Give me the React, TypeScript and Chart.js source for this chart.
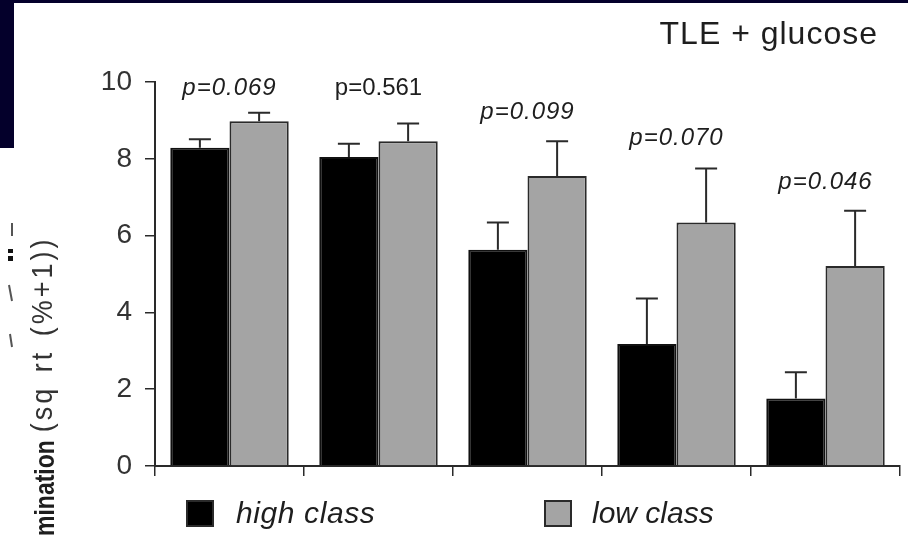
import React, { useEffect, useRef } from "react";
import { Chart, registerables } from "chart.js";

Chart.register(...registerables);

// Germination per class, square-root transformed (sq rt (%+1)), mean + SE
const categories = ["I", "II", "III", "IV", "V"];
const highClass = [8.29, 8.05, 5.63, 3.18, 1.76];
const highClassSE = [0.22, 0.34, 0.71, 1.18, 0.68];
const lowClass = [8.98, 8.46, 7.55, 6.34, 5.21];
const lowClassSE = [0.22, 0.46, 0.91, 1.41, 1.44];
const pValues = ["p=0.069", "p=0.561", "p=0.099", "p=0.070", "p=0.046"];
// value-axis level where each p label sits
const pLabelLevel = [9.84, 9.84, 9.22, 8.54, 7.4];
const yTicks = [0, 2, 4, 6, 8, 10];

const seriesNames = ["high class", "low class"];
const titleText = "TLE + glucose";
const axisLead = "mination";
const axisUnit = "(sq rt (%+1))";

const FONT = '"Liberation Sans", Arial, Helvetica, sans-serif';
const INK = "#2a2a2a";
const TEXT = "#1e1e1e";
const BLACK = "#000000";
const GREY = "#a4a4a4";
const NAVY = "#04002b";

const decor = {
  id: "decor",
  beforeDraw(chart: any) {
    const { ctx, width, height } = chart;
    ctx.save();
    ctx.fillStyle = "#ffffff";
    ctx.fillRect(0, 0, width, height);
    ctx.fillStyle = NAVY;
    ctx.fillRect(0, 0, width, 3);
    ctx.fillRect(0, 0, 14, 148);

    // clipped edge of the neighbouring panel's axis title
    ctx.strokeStyle = "#555555";
    ctx.lineWidth = 2;
    ctx.beginPath();
    ctx.moveTo(12, 223);
    ctx.lineTo(12, 236);
    ctx.moveTo(9, 285);
    ctx.lineTo(12, 301);
    ctx.moveTo(10, 334);
    ctx.lineTo(12, 347);
    ctx.stroke();
    ctx.fillStyle = "#111111";
    ctx.fillRect(8, 249, 5, 4);
    ctx.fillRect(8, 256, 5, 5);
    ctx.restore();
  },
  afterDatasetsDraw(chart: any) {
    const { ctx } = chart;
    const y = chart.scales.y;
    const x = chart.scales.x;
    const errs = [highClassSE, lowClassSE];
    ctx.save();
    ctx.strokeStyle = INK;
    ctx.lineWidth = 2;
    chart.data.datasets.forEach((ds: any, di: number) => {
      const meta = chart.getDatasetMeta(di);
      meta.data.forEach((bar: any, i: number) => {
        const top = y.getPixelForValue(ds.data[i] + errs[di][i]);
        ctx.beginPath();
        ctx.moveTo(bar.x, bar.y);
        ctx.lineTo(bar.x, top);
        ctx.moveTo(bar.x - 11, top);
        ctx.lineTo(bar.x + 11, top);
        ctx.stroke();
      });
    });

    // p values above each pair
    ctx.fillStyle = TEXT;
    ctx.textAlign = "center";
    ctx.textBaseline = "middle";
    pValues.forEach((p, i) => {
      const italic = i !== 1;
      ctx.font = `${italic ? "italic " : ""}24px ${FONT}`;
      (ctx as any).letterSpacing = italic ? "1px" : "0px";
      ctx.fillText(p, x.getPixelForValue(i), y.getPixelForValue(pLabelLevel[i]));
    });
    (ctx as any).letterSpacing = "0px";
    ctx.restore();
  },
  afterDraw(chart: any) {
    const { ctx } = chart;
    ctx.save();
    ctx.fillStyle = TEXT;

    // panel title
    ctx.font = `32px ${FONT}`;
    (ctx as any).letterSpacing = "1px";
    ctx.textAlign = "right";
    ctx.textBaseline = "middle";
    ctx.fillText(titleText, 878, 35);
    (ctx as any).letterSpacing = "0px";

    // legend
    const items = [
      { x: 186, fill: BLACK, label: seriesNames[0] },
      { x: 544, fill: GREY, label: seriesNames[1] },
    ];
    ctx.font = `italic 30px ${FONT}`;
    ctx.textAlign = "left";
    items.forEach((it, k) => {
      ctx.fillStyle = it.fill;
      ctx.fillRect(it.x, 500, 28, 27);
      ctx.strokeStyle = INK;
      ctx.lineWidth = 2;
      ctx.strokeRect(it.x + 1, 501, 26, 25);
      ctx.fillStyle = TEXT;
      (ctx as any).letterSpacing = k === 0 ? "0.6px" : "0px";
      ctx.fillText(it.label, it.x + (k === 0 ? 50 : 48), 515);
    });
    (ctx as any).letterSpacing = "0px";

    // value-axis title, rotated to read bottom to top
    ctx.textAlign = "left";
    ctx.textBaseline = "middle";
    ctx.font = `bold 23px ${FONT}`;
    const w = ctx.measureText(axisLead).width;

    ctx.save();
    ctx.translate(46, 536);
    ctx.rotate(-Math.PI / 2);
    ctx.scale(1, 1.22);
    ctx.fillStyle = TEXT;
    ctx.fillText(axisLead, 0, 0);
    ctx.restore();

    ctx.save();
    ctx.translate(44, 536);
    ctx.rotate(-Math.PI / 2);
    ctx.scale(1, 1.08);
    ctx.font = `27px ${FONT}`;
    (ctx as any).letterSpacing = "3px";
    (ctx as any).wordSpacing = "3px";
    ctx.fillStyle = "#333333";
    ctx.fillText(axisUnit, w + 8, 0);
    ctx.restore();

    ctx.restore();
  },
};

export default function App() {
  const ref = useRef<HTMLCanvasElement>(null);

  useEffect(() => {
    const chart = new Chart(ref.current as HTMLCanvasElement, {
      type: "bar",
      data: {
        labels: categories,
        datasets: [
          {
            label: seriesNames[0],
            data: highClass,
            backgroundColor: BLACK,
            borderColor: "#111111",
            borderWidth: 2,
            categoryPercentage: 0.795,
            barPercentage: 1,
          },
          {
            label: seriesNames[1],
            data: lowClass,
            backgroundColor: GREY,
            borderColor: INK,
            borderWidth: 2,
            categoryPercentage: 0.795,
            barPercentage: 1,
          },
        ],
      },
      options: {
        responsive: false,
        animation: false,
        events: [],
        layout: { padding: { top: 82, right: 8, left: 0, bottom: 0 } },
        plugins: {
          legend: { display: false },
          tooltip: { enabled: false },
          title: { display: false },
        },
        scales: {
          x: {
            offset: true,
            grid: {
              display: true,
              offset: true,
              drawOnChartArea: false,
              drawTicks: true,
              tickLength: 10,
              color: INK,
              lineWidth: 1.5,
            },
            border: { display: true, color: INK, width: 2 },
            ticks: { display: false },
            afterFit: (s: any) => {
              s.height = 72;
            },
          },
          y: {
            min: 0,
            max: 10,
            afterBuildTicks: (s: any) => {
              s.ticks = yTicks.map((v) => ({ value: v }));
            },
            ticks: {
              font: { family: FONT, size: 28 },
              color: "#333333",
              padding: 13,
            },
            grid: {
              display: true,
              drawOnChartArea: false,
              tickLength: 10,
              color: INK,
              lineWidth: 1.5,
            },
            border: { display: true, color: INK, width: 2 },
            afterFit: (s: any) => {
              s.width = 155;
            },
          },
        },
      },
      plugins: [decor],
    });
    return () => chart.destroy();
  }, []);

  return (
    <div style={{ position: "fixed", left: 0, top: 0, width: 908, height: 538, background: "#fff" }}>
      <canvas
        ref={ref}
        width={908}
        height={538}
        style={{ display: "block", width: 908, height: 538 }}
      />
    </div>
  );
}
